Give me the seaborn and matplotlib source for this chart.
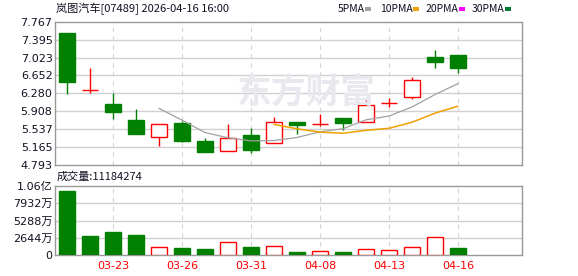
import numpy as np
import pandas as pd
import matplotlib
matplotlib.use("Agg")
import matplotlib.pyplot as plt
from matplotlib.patches import Rectangle
import seaborn as sns

# ---------------- data ----------------
dates = ["03-19", "03-20", "03-23", "03-24", "03-25", "03-26", "03-27", "03-30", "03-31",
         "04-01", "04-02", "04-08", "04-09", "04-10", "04-13", "04-14", "04-15", "04-16"]
opens = [7.53, 6.345, 6.06, 5.73, 5.37, 5.66, 5.29, 5.08, 5.42, 5.24, 5.69, 5.648, 5.77, 5.68, 6.072, 6.20, 7.04, 7.08]
highs = [7.53, 6.80, 6.28, 5.96, 5.65, 5.71, 5.35, 5.65, 5.56, 5.79, 5.69, 5.85, 5.77, 6.18, 6.18, 6.61, 7.18, 7.08]
lows = [6.27, 6.29, 5.75, 5.43, 5.19, 5.27, 5.06, 5.08, 5.05, 5.24, 5.43, 5.60, 5.51, 5.68, 5.99, 6.16, 6.81, 6.71]
closes = [6.52, 6.35, 5.90, 5.43, 5.65, 5.30, 5.06, 5.35, 5.11, 5.68, 5.62, 5.65, 5.67, 6.03, 6.075, 6.56, 6.94, 6.81]
volumes = [98.1e6, 29.1e6, 35.3e6, 30.7e6, 11.8e6, 10.7e6, 9.2e6, 19.5e6, 12.3e6, 13.3e6,
           4.6e6, 5.7e6, 4.6e6, 8.7e6, 7.2e6, 11.8e6, 27.1e6, 11184274]
vol_up = [False, False, False, False, True, False, False, True, False, True,
          False, True, False, True, True, True, True, False]
price_ticks = [4.793, 5.165, 5.537, 5.908, 6.280, 6.652, 7.023, 7.395, 7.767]
price_labels = ["4.793", "5.165", "5.537", "5.908", "6.280", "6.652", "7.023", "7.395", "7.767"]
vol_ticks = [0, 26440000, 52880000, 79320000, 105760000]
vol_labels = ["0", "2644万", "5288万", "7932万", "1.06亿"]
label_idx = [2, 5, 8, 11, 14, 17]
title = "岚图汽车[07489] 2026-04-16 16:00"
legend_names = ["5PMA", "10PMA", "20PMA", "30PMA"]
legend_colors = ["#a0a0a0", "#f0a000", "#ff00ff", "#007a33"]
vol_title = "成交量:11184274"

# ---------------- style ----------------
sns.set_style("white")
plt.rcParams["font.family"] = ["DejaVu Sans", "Noto Sans CJK SC"]

RED = "#ff0000"
GREEN = "#008000"
GRID = "#d0d0d0"
SPINE = "#999999"
TXT = "#111122"

W, H = 578, 276
fig = plt.figure(figsize=(W / 100, H / 100), dpi=100)
fig.patch.set_facecolor("white")

def ax_rect(l, t, r, b):
    return [l / W, 1 - b / H, (r - l) / W, (b - t) / H]

ax = fig.add_axes(ax_rect(55.3, 21.7, 522, 165))
axv = fig.add_axes(ax_rect(55.3, 186, 522, 255))

df = pd.DataFrame({"i": np.arange(len(dates)), "date": dates, "open": opens, "high": highs,
                   "low": lows, "close": closes, "volume": volumes, "vol_up": vol_up})
df["up"] = df["close"] >= df["open"]
df["ma5"] = df["close"].rolling(5).mean()
df["ma10"] = df["close"].rolling(10).mean()

XMIN, XMAX = -0.5, 19.78
bw = 0.72

# watermark
fig.text(306 / W, 1 - 92 / H, "东方财富", fontsize=25, fontweight="bold", color="#e8e8ee",
         ha="center", va="center", family=["Noto Sans CJK SC"], zorder=0)

for a in (ax, axv):
    a.set_xlim(XMIN, XMAX)
    for s in a.spines.values():
        s.set_color(SPINE)
        s.set_linewidth(1.0)
    for k in label_idx:
        a.axvline(k, color="#d4d4d4", lw=0.8, ls=(0, (4, 4)), zorder=1)
    a.set_facecolor("none")

# price panel
ax.set_ylim(price_ticks[0], price_ticks[-1])
ax.set_yticks(price_ticks)
ax.set_yticklabels(price_labels)
for t in price_ticks[1:-1]:
    ax.axhline(t, color=GRID, lw=1.0, zorder=1)
ax.set_xticks([])

colors = np.where(df["up"], RED, GREEN)
ax.vlines(df["i"], df["low"], df["high"], colors=colors, lw=1.0, zorder=2)
bottoms = np.minimum(df["open"], df["close"])
heights = np.abs(df["close"] - df["open"])
face = np.where(df["up"], "white", GREEN)
ax.bar(df["i"], heights, bottom=bottoms, width=bw, color=face, edgecolor=colors,
       linewidth=1.0, zorder=3)

sns.lineplot(data=df, x="i", y="ma5", ax=ax, color="#a0a0a0", lw=0.9, zorder=4)
sns.lineplot(data=df, x="i", y="ma10", ax=ax, color="#f0a000", lw=1.1, zorder=4)
ax.set_xlabel("")
ax.set_ylabel("")
ax.set_xlim(XMIN, XMAX)
ax.tick_params(axis="y", length=0, pad=2, labelsize=8, labelcolor=TXT)

# volume panel
axv.set_ylim(0, vol_ticks[-1])
axv.set_yticks(vol_ticks)
axv.set_yticklabels(vol_labels)
for t in vol_ticks[1:-1]:
    axv.axhline(t, color=GRID, lw=1.0, zorder=1)
vcol = np.where(df["vol_up"], RED, GREEN)
vface = np.where(df["vol_up"], "white", GREEN)
axv.bar(df["i"], df["volume"], width=bw, color=vface, edgecolor=vcol, linewidth=1.0, zorder=3)
axv.set_xticks(label_idx)
axv.set_xticklabels([dates[k] for k in label_idx])
axv.tick_params(axis="x", length=0, pad=4, labelsize=8, labelcolor=RED)
axv.tick_params(axis="y", length=0, pad=2, labelsize=8, labelcolor=TXT)
axv.set_xlabel("")
axv.set_ylabel("")

# texts
fig.text(56 / W, 1 - 9 / H, title, fontsize=8, color=TXT, ha="left", va="center",
         family=["Noto Sans CJK SC", "DejaVu Sans"])
fig.text(57 / W, 1 - 177 / H, vol_title, fontsize=8, color=TXT, ha="left", va="center",
         family=["Noto Sans CJK SC", "DejaVu Sans"])

leg_x = [338, 380, 426, 472]
sq_x = [365, 413, 459, 505]
for name, c, lx, sx in zip(legend_names, legend_colors, leg_x, sq_x):
    fig.text(lx / W, 1 - 9 / H, name, fontsize=7.5, color=TXT, ha="left", va="center",
             family=["Noto Sans CJK SC", "DejaVu Sans"])
    fig.add_artist(Rectangle((sx / W, 1 - 10.5 / H), 6 / W, 3.5 / H, transform=fig.transFigure,
                             facecolor=c, edgecolor="none"))

fig.savefig("out.png", dpi=100)
